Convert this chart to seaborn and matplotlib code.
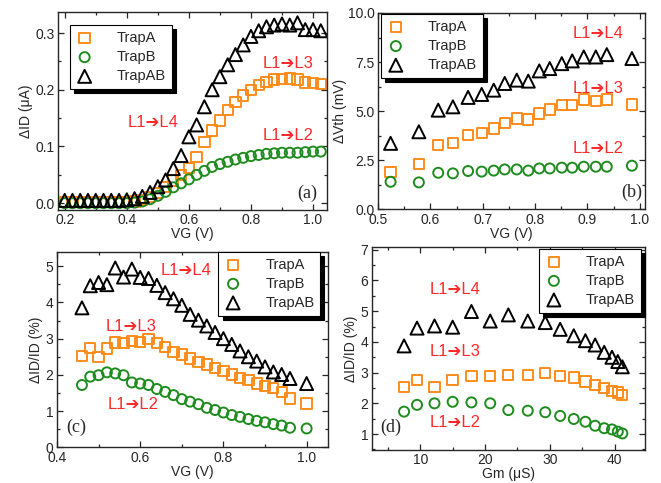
import numpy as np
import matplotlib
matplotlib.use('Agg')
import matplotlib.pyplot as plt
from matplotlib.ticker import MultipleLocator
import seaborn as sns

# ── DATA ──────────────────────────────────────────────────
# (a) delta ID vs VG
vg_a = [0.200, 0.225, 0.250, 0.275, 0.300, 0.325, 0.350, 0.375, 0.400, 0.425,
        0.450, 0.475, 0.500, 0.525, 0.550, 0.575, 0.600, 0.625, 0.650, 0.675,
        0.700, 0.725, 0.750, 0.775, 0.800, 0.825, 0.850, 0.875, 0.900, 0.925,
        0.950, 0.975, 1.000, 1.025]
id_a_trapA = [0.002, 0.002, 0.002, 0.002, 0.002, 0.002, 0.002, 0.002, 0.002, 0.003,
              0.006, 0.011, 0.018, 0.028, 0.040, 0.050, 0.062, 0.082, 0.108, 0.128,
              0.146, 0.164, 0.178, 0.190, 0.200, 0.208, 0.214, 0.218, 0.219, 0.220,
              0.218, 0.213, 0.212, 0.210]
id_a_trapB = [0.000, 0.000, 0.000, 0.000, 0.000, 0.000, 0.000, 0.000, 0.000, 0.001,
              0.003, 0.007, 0.013, 0.020, 0.028, 0.035, 0.042, 0.050, 0.057, 0.064,
              0.069, 0.073, 0.077, 0.080, 0.083, 0.085, 0.087, 0.088, 0.089, 0.089,
              0.089, 0.090, 0.091, 0.091]
id_a_trapAB = [0.005, 0.005, 0.005, 0.005, 0.005, 0.005, 0.005, 0.005, 0.006, 0.008,
               0.012, 0.019, 0.029, 0.041, 0.061, 0.084, 0.117, 0.138, 0.170, 0.200,
               0.223, 0.244, 0.262, 0.279, 0.294, 0.304, 0.311, 0.314, 0.316, 0.314,
               0.318, 0.306, 0.306, 0.304]

# (b) delta Vth vs VG
vg_b = [0.524, 0.578, 0.615, 0.643, 0.672, 0.698, 0.721, 0.742, 0.765, 0.787,
        0.808, 0.828, 0.851, 0.871, 0.893, 0.916, 0.937, 0.985]
vth_trapA = [1.91, 2.30, 3.27, 3.39, 3.78, 3.90, 4.12, 4.41, 4.63, 4.58,
             4.88, 5.09, 5.30, 5.30, 5.59, 5.51, 5.59, 5.34]
vth_trapB = [1.40, 1.37, 1.86, 1.83, 1.95, 1.92, 1.97, 2.03, 2.03, 1.97,
             2.08, 2.08, 2.12, 2.12, 2.17, 2.17, 2.17, 2.22]
vth_trapAB = [3.36, 3.95, 5.05, 5.22, 5.70, 5.85, 6.07, 6.41, 6.58, 6.53,
              7.05, 7.17, 7.42, 7.56, 7.76, 7.76, 7.88, 7.68]

# (c) delta ID / ID vs VG
vg_c = [0.46, 0.48, 0.50, 0.52, 0.54, 0.56, 0.58, 0.60, 0.62, 0.64,
        0.66, 0.68, 0.70, 0.72, 0.74, 0.76, 0.78, 0.80, 0.82, 0.84,
        0.86, 0.88, 0.90, 0.92, 0.94, 0.96, 1.00]
rel_c_trapA = [2.53, 2.75, 2.49, 2.73, 2.89, 2.87, 2.93, 2.91, 2.99, 2.87,
               2.77, 2.64, 2.56, 2.45, 2.36, 2.29, 2.18, 2.10, 2.01, 1.92,
               1.86, 1.76, 1.70, 1.63, 1.53, 1.35, 1.21]
rel_c_trapB = [1.72, 1.95, 1.99, 2.07, 2.04, 1.99, 1.79, 1.76, 1.72, 1.61,
               1.53, 1.44, 1.33, 1.26, 1.19, 1.09, 1.03, 0.96, 0.89, 0.84,
               0.78, 0.73, 0.69, 0.64, 0.60, 0.54, 0.52]
rel_c_trapAB = [3.85, 4.46, 4.55, 4.49, 4.95, 4.70, 4.92, 4.69, 4.66, 4.47,
                4.27, 4.10, 3.92, 3.67, 3.51, 3.35, 3.17, 3.00, 2.84, 2.66,
                2.50, 2.38, 2.22, 2.08, 2.01, 1.90, 1.76]

# (d) delta ID / ID vs Gm
gm_d = [7.5, 9.5, 12.2, 15.0, 17.9, 20.8, 23.6, 26.6, 29.3, 31.6,
        33.7, 35.5, 37.0, 38.4, 39.6, 40.5, 41.2]
rel_d_trapA = [2.54, 2.76, 2.54, 2.76, 2.89, 2.89, 2.92, 2.92, 2.98, 2.89,
               2.84, 2.71, 2.60, 2.49, 2.41, 2.35, 2.27]
rel_d_trapB = [1.73, 1.95, 2.00, 2.05, 2.03, 2.00, 1.78, 1.76, 1.71, 1.59,
               1.49, 1.40, 1.27, 1.19, 1.15, 1.08, 1.02]
rel_d_trapAB = [3.87, 4.45, 4.52, 4.48, 4.99, 4.68, 4.88, 4.68, 4.63, 4.41,
                4.20, 4.04, 3.90, 3.66, 3.50, 3.36, 3.19]

SERIES = ['TrapA', 'TrapB', 'TrapAB']
COLORS = {'TrapA': '#FF8C1A', 'TrapB': '#1E8C1E', 'TrapAB': 'black'}
MARKERS = {'TrapA': 's', 'TrapB': 'o', 'TrapAB': '^'}
SIZES = {'TrapA': 55, 'TrapB': 52, 'TrapAB': 88}
ARROW_RED = '#FF2A2A'

# ── STYLE ─────────────────────────────────────────────────
sns.set_style('ticks')
plt.rcParams['font.family'] = ['Liberation Sans', 'DejaVu Sans']
plt.rcParams['font.size'] = 10
plt.rcParams['axes.linewidth'] = 1.0
for ax_name in ('xtick', 'ytick'):
    plt.rcParams[f'{ax_name}.direction'] = 'in'
    plt.rcParams[f'{ax_name}.major.size'] = 4
    plt.rcParams[f'{ax_name}.minor.size'] = 2.5
    plt.rcParams[f'{ax_name}.major.width'] = 0.9
    plt.rcParams[f'{ax_name}.minor.width'] = 0.9
    plt.rcParams[f'{ax_name}.labelsize'] = 10
    plt.rcParams[f'{ax_name}.major.pad'] = 2.5
plt.rcParams['xtick.top'] = True
plt.rcParams['ytick.right'] = True

fig = plt.figure(figsize=(6.61, 4.83), dpi=100)
ax_a = fig.add_axes([0.0885, 0.5652, 0.4062, 0.4099])
ax_b = fig.add_axes([0.5719, 0.5667, 0.4039, 0.4064])
ax_c = fig.add_axes([0.0862, 0.0739, 0.4104, 0.4050])
ax_d = fig.add_axes([0.5623, 0.0683, 0.4135, 0.4209])


def draw(ax, x, ys):
    for name, y in zip(SERIES, ys):
        sns.scatterplot(x=x, y=y, ax=ax, marker=MARKERS[name], s=SIZES[name],
                        facecolors='none', edgecolor=COLORS[name],
                        linewidth=1.4, label=name, legend=False)


def legend(ax, loc, anchor):
    leg = ax.legend(loc=loc, bbox_to_anchor=anchor, frameon=True, fancybox=False,
                    shadow={'color': 'black', 'alpha': 1.0, 'ox': 3, 'oy': -3},
                    fontsize=10.5, scatterpoints=1, handletextpad=1.6,
                    labelspacing=0.35, borderpad=0.4, borderaxespad=0,
                    handlelength=1.2)
    leg.get_frame().set_edgecolor('black')
    leg.get_frame().set_linewidth(0.8)


def red(ax, x, y, txt):
    ax.text(x, y, txt, color=ARROW_RED, fontsize=12, ha='center', va='center')


def panel(ax, x, y, txt):
    ax.text(x, y, txt, transform=ax.transAxes, fontsize=13,
            family='Liberation Serif', ha='center', va='center')


# ── (a) ───────────────────────────────────────────────────
draw(ax_a, vg_a, [id_a_trapA, id_a_trapB, id_a_trapAB])
ax_a.set_xlim(0.18, 1.045)
ax_a.set_ylim(-0.012, 0.337)
ax_a.xaxis.set_major_locator(MultipleLocator(0.2))
ax_a.xaxis.set_minor_locator(MultipleLocator(0.1))
ax_a.yaxis.set_major_locator(MultipleLocator(0.1))
ax_a.yaxis.set_minor_locator(MultipleLocator(0.05))
ax_a.set_xlabel('VG (V)', labelpad=0)
ax_a.set_ylabel('ΔID (μA)', labelpad=2)
legend(ax_a, 'upper left', (0.043, 0.934))
red(ax_a, 0.92, 0.247, 'L1➔L3')
red(ax_a, 0.484, 0.142, 'L1➔L4')
red(ax_a, 0.92, 0.12, 'L1➔L2')
panel(ax_a, 0.925, 0.085, '(a)')

# ── (b) ───────────────────────────────────────────────────
draw(ax_b, vg_b, [vth_trapA, vth_trapB, vth_trapAB])
ax_b.set_xlim(0.5, 1.01)
ax_b.set_ylim(0, 10)
ax_b.xaxis.set_major_locator(MultipleLocator(0.1))
ax_b.xaxis.set_minor_locator(MultipleLocator(0.05))
ax_b.yaxis.set_major_locator(MultipleLocator(2.5))
ax_b.yaxis.set_minor_locator(MultipleLocator(1.25))
ax_b.set_xlabel('VG (V)', labelpad=0)
ax_b.set_ylabel('ΔVth (mV)', labelpad=0.5)
legend(ax_b, 'upper left', (0.012, 0.995))
red(ax_b, 0.92, 8.95, 'L1➔L4')
red(ax_b, 0.92, 6.15, 'L1➔L3')
red(ax_b, 0.92, 3.1, 'L1➔L2')
panel(ax_b, 0.95, 0.085, '(b)')

# ── (c) ───────────────────────────────────────────────────
draw(ax_c, vg_c, [rel_c_trapA, rel_c_trapB, rel_c_trapAB])
ax_c.set_xlim(0.4, 1.052)
ax_c.set_ylim(0, 5.4)
ax_c.xaxis.set_major_locator(MultipleLocator(0.2))
ax_c.xaxis.set_minor_locator(MultipleLocator(0.1))
ax_c.yaxis.set_major_locator(MultipleLocator(1))
ax_c.yaxis.set_minor_locator(MultipleLocator(0.5))
ax_c.set_xlabel('VG (V)', labelpad=0)
ax_c.set_ylabel('ΔID/ID (%)', labelpad=2)
legend(ax_c, 'upper right', (0.97, 1.0))
red(ax_c, 0.71, 4.89, 'L1➔L4')
red(ax_c, 0.579, 3.33, 'L1➔L3')
red(ax_c, 0.583, 1.17, 'L1➔L2')
panel(ax_c, 0.07, 0.1, '(c)')

# ── (d) ───────────────────────────────────────────────────
draw(ax_d, gm_d, [rel_d_trapA, rel_d_trapB, rel_d_trapAB])
ax_d.set_xlim(2.5, 44.7)
ax_d.set_ylim(0.48, 7.1)
ax_d.xaxis.set_major_locator(MultipleLocator(10))
ax_d.xaxis.set_minor_locator(MultipleLocator(5))
ax_d.yaxis.set_major_locator(MultipleLocator(1))
ax_d.yaxis.set_minor_locator(MultipleLocator(0.5))
ax_d.set_xlabel('Gm (μS)', labelpad=0)
ax_d.set_ylabel('ΔID/ID (%)', labelpad=2)
legend(ax_d, 'upper right', (0.985, 0.99))
red(ax_d, 15.4, 5.7, 'L1➔L4')
red(ax_d, 15.4, 3.68, 'L1➔L3')
red(ax_d, 15.4, 1.37, 'L1➔L2')
panel(ax_d, 0.07, 0.11, '(d)')

fig.savefig('out.png', dpi=100, facecolor='white')
